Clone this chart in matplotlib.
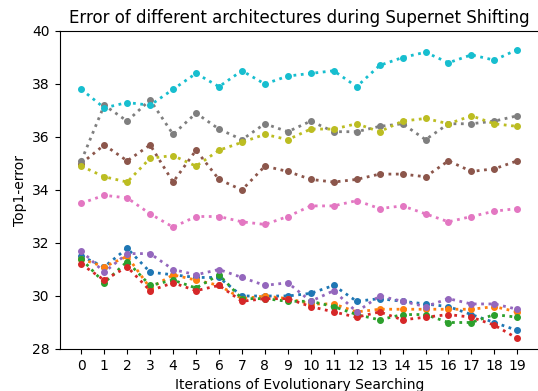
import matplotlib
matplotlib.use("Agg")
import matplotlib.pyplot as plt

iterations = list(range(20))

blue = [31.5, 31.1, 31.8, 30.9, 30.8, 30.7, 30.7, 30.0, 30.0, 30.0, 30.1, 30.4, 29.8, 29.9, 29.8, 29.7, 29.6, 29.3, 29.0, 28.7]
orange = [31.4, 31.1, 31.5, 30.3, 30.8, 30.6, 30.4, 29.9, 30.0, 29.9, 29.7, 29.7, 29.4, 29.5, 29.5, 29.5, 29.5, 29.5, 29.6, 29.4]
green = [31.4, 30.5, 31.3, 30.4, 30.6, 30.3, 30.8, 29.9, 29.9, 29.8, 29.8, 29.6, 29.3, 29.1, 29.3, 29.3, 29.0, 29.0, 29.3, 29.2]
red = [31.2, 30.6, 31.1, 30.2, 30.5, 30.2, 30.4, 29.8, 29.9, 29.9, 29.6, 29.4, 29.2, 29.4, 29.1, 29.2, 29.3, 29.2, 28.9, 28.4]
purple = [31.7, 30.9, 31.6, 31.6, 31.0, 30.8, 31.0, 30.7, 30.4, 30.5, 29.8, 30.2, 29.4, 30.0, 29.8, 29.6, 29.9, 29.7, 29.7, 29.5]
brown = [35.0, 35.7, 35.1, 35.7, 34.3, 35.5, 34.4, 34.0, 34.9, 34.7, 34.4, 34.3, 34.4, 34.6, 34.6, 34.5, 35.1, 34.7, 34.8, 35.1]
pink = [33.5, 33.8, 33.7, 33.1, 32.6, 33.0, 33.0, 32.8, 32.7, 33.0, 33.4, 33.4, 33.6, 33.3, 33.4, 33.1, 32.8, 33.0, 33.2, 33.3]
gray = [35.1, 37.2, 36.6, 37.4, 36.1, 36.9, 36.3, 35.9, 36.5, 36.2, 36.6, 36.2, 36.2, 36.4, 36.5, 35.9, 36.5, 36.5, 36.6, 36.8]
olive = [34.9, 34.5, 34.3, 35.2, 35.3, 34.9, 35.5, 35.8, 36.1, 35.9, 36.3, 36.3, 36.5, 36.2, 36.6, 36.7, 36.5, 36.8, 36.5, 36.4]
cyan = [37.8, 37.1, 37.3, 37.2, 37.8, 38.4, 37.9, 38.5, 38.0, 38.3, 38.4, 38.5, 37.9, 38.7, 39.0, 39.2, 38.8, 39.1, 38.9, 39.3]

series = [blue, orange, green, red, purple, brown, pink, gray, olive, cyan]

fig = plt.figure(figsize=(5.38, 3.91), dpi=100)
ax = fig.add_axes([59.5 / 538, 42 / 391, 479.6 / 538, 318 / 391])

for s in series:
    ax.plot(iterations, s, linestyle=':', marker='o', markersize=4, linewidth=2)

ax.set_ylim(28, 40)
ax.set_xticks(iterations)
ax.set_xlabel("Iterations of Evolutionary Searching")
ax.set_ylabel("Top1-error")
ax.set_title("Error of different architectures during Supernet Shifting")

fig.savefig("out.png", dpi=100)
